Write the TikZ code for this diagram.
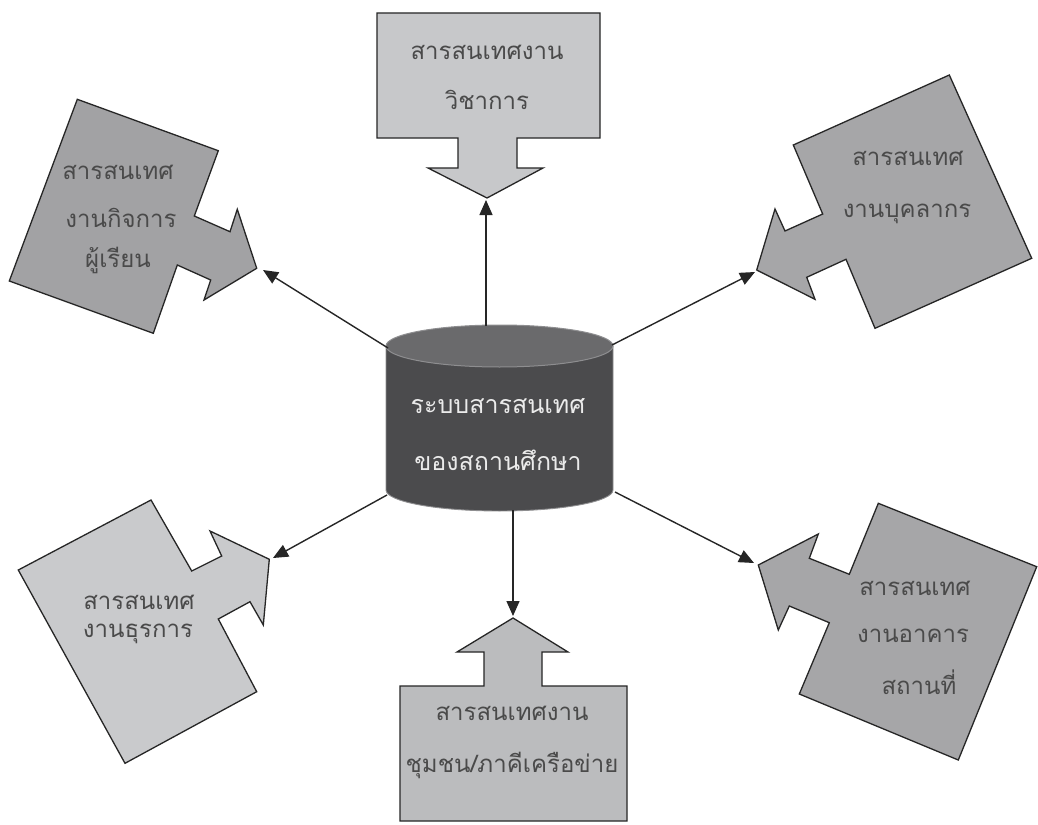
\documentclass[tikz,border=0pt]{standalone}
\usepackage{fontspec}
\newfontfamily\thaifont[Script=Thai]{Loma}
\usetikzlibrary{arrows.meta}
\definecolor{topfill}{HTML}{C7C8CA}
\definecolor{botfill}{HTML}{BBBCBE}
\definecolor{ltfill}{HTML}{A2A2A4}
\definecolor{rtfill}{HTML}{A6A6A8}
\definecolor{lbfill}{HTML}{C9CACC}
\definecolor{rbfill}{HTML}{A6A6A8}
\definecolor{txtgray}{HTML}{4A4A4A}
\definecolor{cylbody}{HTML}{4B4B4D}
\definecolor{cyltop}{HTML}{6A6A6C}
\definecolor{cyledge}{HTML}{8E8E90}
\begin{document}
\begin{tikzpicture}[x=1pt,y=-1pt,
  callout/.style={draw=black!85, line width=1.3pt, line join=miter},
  conn/.style={draw=black!85, line width=1.4pt, -{Triangle[length=15pt,width=13pt]}},
  lbl/.style={font=\thaifont\fontsize{24}{28}\selectfont, text=txtgray, anchor=base, inner sep=0pt},
  cyllbl/.style={font=\thaifont\fontsize{25}{28}\selectfont, text=white!92!black, anchor=base, inner sep=0pt}]
\useasboundingbox (0,0) rectangle (1038,824);
\fill[white] (0,0) rectangle (1038,824);

% central cylinder
\fill[cylbody] (386,346) -- (386,490) arc[start angle=180,end angle=360,x radius=113.5pt,y radius=21pt] -- (613,346) -- cycle;
\draw[cyledge, line width=0.9pt] (386,346) -- (386,490) arc[start angle=180,end angle=360,x radius=113.5pt,y radius=21pt] -- (613,346);
\filldraw[fill=cyltop, draw=cyledge, line width=1pt] (499.5,346) ellipse[x radius=113.5pt, y radius=21pt];
\node[cyllbl] (cyl1) at (498,413) {ระบบสารสนเทศ};
\node[cyllbl] (cyl2) at (498,470) {ของสถานศึกษา};
\coordinate (cN) at (486,326);
\coordinate (cS) at (513,510);
\coordinate (cNW) at (388,348);
\coordinate (cNE) at (612,345);
\coordinate (cSW) at (387,495);
\coordinate (cSE) at (615,492);

% top callout
\filldraw[callout, fill=topfill] (377,13) -- (600,13) -- (600,138) -- (517,138) -- (517,168) -- (543,168) -- (487,198) coordinate (tipT) -- (428,168) -- (458,168) -- (458,138) -- (377,138) -- cycle;
\node[lbl] (t1) at (487,60) {สารสนเทศงาน};
\node[lbl] (t2) at (487,110) {วิชาการ};

% left-top callout
\filldraw[callout, fill=ltfill] (77.3,99.3) -- (218.3,150.7) -- (194.3,216) -- (230,231.7) -- (237.3,209.3) -- (256.7,268.3) coordinate (tipLT) -- (204,300) -- (210.7,280) -- (177.3,265) -- (153.3,333.3) -- (9.3,281) -- cycle;
\node[lbl] (lt1) at (118,179) {สารสนเทศ};
\node[lbl] (lt2) at (121,227) {งานกิจการ};
\node[lbl] (lt3) at (118,267) {ผู้เรียน};

% right-top callout
\filldraw[callout, fill=rtfill] (793.3,145) -- (949.3,75) -- (1031.7,258.3) -- (875,328.3) -- (846,259.3) -- (806.7,277.3) -- (815,299.3) -- (756.7,270) coordinate (tipRT) -- (775,209) -- (785,231) -- (822.7,214) -- cycle;
\node[lbl] (rt1) at (908,165) {สารสนเทศ};
\node[lbl] (rt2) at (907,217) {งานบุคลากร};

% left-bottom callout
\filldraw[callout, fill=lbfill] (18.3,570) -- (151,500) -- (191.7,571) -- (221.7,556) -- (210,531) -- (269.3,559.3) coordinate (tipLB) -- (263.3,625) -- (250,601.7) -- (218.3,619) -- (256.7,691.7) -- (125,763.3) -- cycle;
\node[lbl] (lb1) at (139,609) {สารสนเทศ};
\node[lbl] (lb2) at (138,637) {งานธุรการ};

% right-bottom callout
\filldraw[callout, fill=rbfill] (878.3,503.3) -- (1036.7,566.7) -- (958.3,760) -- (799.3,694) -- (829.3,622.7) -- (789.3,606) -- (778.3,630) -- (758.3,565) coordinate (tipRB) -- (818.3,534) -- (809.3,558.3) -- (849.3,574.3) -- cycle;
\node[lbl] (rb1) at (915,595) {สารสนเทศ};
\node[lbl] (rb2) at (913,642) {งานอาคาร};
\node[lbl] (rb3) at (919,694) {สถานที่};

% bottom callout
\filldraw[callout, fill=botfill] (400,686) -- (484,686) -- (484,652) -- (457,652) -- (513,618) coordinate (tipB) -- (568,652) -- (542,652) -- (542,686) -- (627,686) -- (627,821) -- (400,821) -- cycle;
\node[lbl] (b1) at (512,720) {สารสนเทศงาน};
\node[lbl] (b2) at (512,772) {ชุมชน/ภาคีเครือข่าย};

% connectors
\coordinate (eT) at (486,200);
\coordinate (eB) at (513,616);
\coordinate (eLT) at (263,270);
\coordinate (eRT) at (755,272);
\coordinate (eLB) at (273,558);
\coordinate (eRB) at (754,563);
\draw[conn] (cN) -- (eT);
\draw[conn] (cS) -- (eB);
\draw[conn] (cNW) -- (eLT);
\draw[conn] (cNE) -- (eRT);
\draw[conn] (cSW) -- (eLB);
\draw[conn] (cSE) -- (eRB);
\end{tikzpicture}
\end{document}
